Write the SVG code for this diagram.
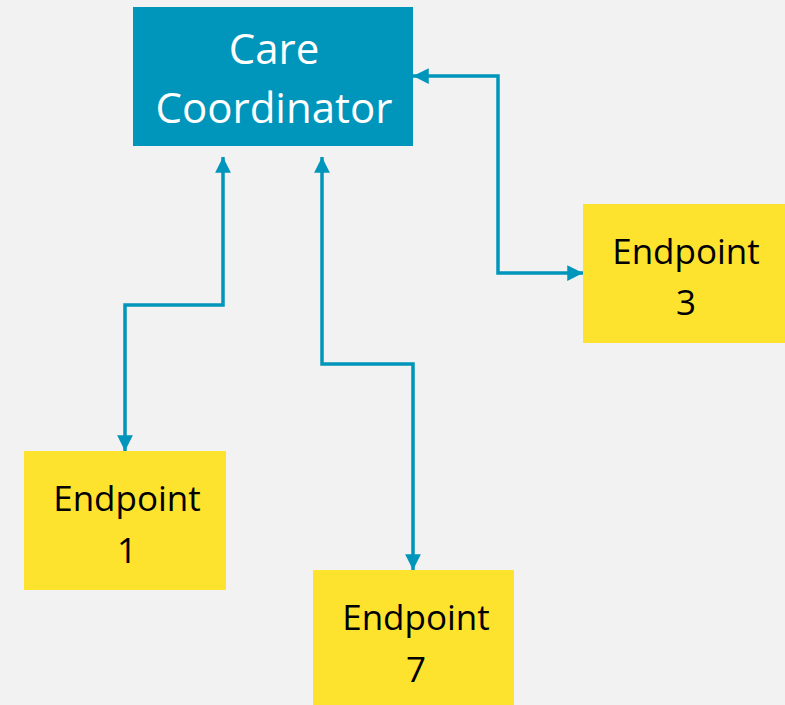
<svg xmlns="http://www.w3.org/2000/svg" width="785" height="705" viewBox="0 0 785 705">
<defs>
<marker id="arr" viewBox="0 0 10 10" refX="10" refY="5" markerWidth="4.5" markerHeight="4.5" orient="auto-start-reverse" markerUnits="strokeWidth">
<path d="M0,0 L10,5 L0,10 Z" fill="#0095BB"/>
</marker>
<style>
.conn{fill:none;stroke:#0095BB;stroke-width:3.5;marker-start:url(#arr);marker-end:url(#arr)}
.ep rect{fill:#FDE22E}
.ep text{font-family:"Open Sans","Liberation Sans",sans-serif;font-size:35px;fill:#000;text-anchor:middle}
.cc text{font-family:"Open Sans","Liberation Sans",sans-serif;font-size:42px;fill:#fff;text-anchor:middle}
</style>
</defs>
<rect width="785" height="705" fill="#F2F2F2"/>
<g id="care-coordinator" class="cc">
<rect x="133" y="7" width="280" height="139" fill="#0095BB"/>
<text x="274" y="64">Care</text>
<text x="274" y="123">Coordinator</text>
</g>
<g id="endpoint-3" class="ep">
<rect x="583" y="204" width="202" height="139"/>
<text x="686" y="264">Endpoint</text>
<text x="686" y="315">3</text>
</g>
<g id="endpoint-1" class="ep">
<rect x="24" y="451" width="202" height="139"/>
<text x="127" y="511">Endpoint</text>
<text x="127" y="563">1</text>
</g>
<g id="endpoint-7" class="ep">
<rect x="313" y="570" width="201" height="140"/>
<text x="416" y="630">Endpoint</text>
<text x="416" y="682">7</text>
</g>
<g id="connectors">
<path class="conn" d="M125,451 L125,305 L223,305 L223,157"/>
<path class="conn" d="M322,157 L322,364 L413,364 L413,570"/>
<path class="conn" d="M413,76 L498,76 L498,273 L583,273"/>
</g>
</svg>
